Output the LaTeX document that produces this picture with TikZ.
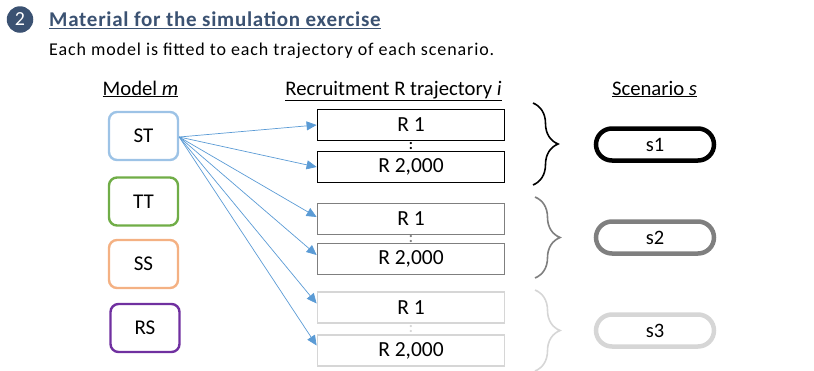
\documentclass[tikz,border=0pt]{standalone}
\usepackage{fontspec}
\setmainfont{Carlito}
\newfontfamily\titlefont{Carlito}[LetterSpace=3.5]
\newfontfamily\subfont{Carlito}[LetterSpace=5]
\usetikzlibrary{arrows.meta,decorations.pathreplacing,calc}
\definecolor{titleblue}{HTML}{3B5272}
\definecolor{stblue}{HTML}{9DC3E6}
\definecolor{ttgreen}{HTML}{70AD47}
\definecolor{ssorange}{HTML}{F4B183}
\definecolor{rspurple}{HTML}{7030A0}
\definecolor{arrowblue}{HTML}{5B9BD5}
\definecolor{midgray}{HTML}{7F7F7F}
\definecolor{lightgray}{HTML}{D6D6D6}
\tikzset{
  modelbox/.style={draw, line width=2.4pt, rounded corners=8pt, minimum width=69pt, minimum height=48pt, font=\fontsize{21}{21}\selectfont, inner sep=0pt},
  rbox/.style={draw, line width=1.8pt, minimum width=187pt, minimum height=31pt, font=\fontsize{21.5}{21.5}\selectfont, inner sep=0pt},
  pill/.style={draw, line width=4.5pt, rounded corners=16pt, minimum width=118pt, minimum height=32pt, font=\fontsize{20.5}{20.5}\selectfont, inner sep=0pt},
  header/.style={font=\fontsize{20.7}{20.7}\selectfont, inner sep=0pt, anchor=base},
  fitarrow/.style={draw=arrowblue, line width=0.7pt, -{Triangle[length=10pt,width=9pt]}, arrowblue},
  curly/.style={decorate, decoration={brace, amplitude=25pt}, line width=1.6pt},
  dotsep/.style={font=\fontsize{15}{15}\selectfont\bfseries, inner sep=0pt}
}
\begin{document}
\begin{tikzpicture}[x=1pt,y=-1pt]
\useasboundingbox (0,0) rectangle (814,370);
% title
\node[circle, fill=titleblue, minimum size=26.5pt, inner sep=0pt, text=white, font=\fontsize{20}{20}\selectfont] (num) at (20,19.5) {2};
\node[anchor=base west, inner sep=0pt, text=titleblue, font=\titlefont\fontsize{21}{21}\selectfont\bfseries] (title) at (49,26.7) {\underline{Material for the simulation exercise}};
\node[anchor=base west, inner sep=0pt, font=\subfont\fontsize{18}{18}\selectfont] (sub) at (49,55) {Each model is fitted to each trajectory of each scenario.};
% headers
\node[header] (hm) at (140.5,95) {\underline{Model \textit{m}}};
\node[header] (hr) at (393.5,95) {\underline{Recruitment R trajectory \textit{i}}};
\node[header] (hs) at (654.5,95) {\underline{Scenario \textit{s}}};
% model boxes
\node[modelbox, draw=stblue] (st) at (143.5,136) {ST};
\node[modelbox, draw=ttgreen] (tt) at (143.5,201.5) {TT};
\node[modelbox, draw=ssorange] (ss) at (143.5,264) {SS};
\node[modelbox, draw=rspurple] (rs) at (145,328) {RS};
% R boxes
\node[rbox, draw=black] (a1) at (411,125) {R 1};
\node[rbox, draw=black] (a2) at (411,167) {R 2,000};
\node[rbox, draw=midgray] (b1) at (411,219) {R 1};
\node[rbox, draw=midgray] (b2) at (411,259) {R 2,000};
\node[rbox, draw=lightgray] (c1) at (411,307.5) {R 1};
\node[rbox, draw=lightgray] (c2) at (411,350.5) {R 2,000};
% dots
\node[dotsep, text=black] (da) at (411,146) {:};
\node[dotsep, text=midgray] (db) at (411,239) {:};
\node[dotsep, text=lightgray] (dc) at (411,329) {:};
% braces
\coordinate (ba1) at (533,103); \coordinate (ba2) at (533,185);
\coordinate (bb1) at (535,197); \coordinate (bb2) at (535,278);
\coordinate (bc1) at (535,290); \coordinate (bc2) at (535,371);
\draw[curly, draw=black] (ba1) -- (ba2);
\draw[curly, draw=midgray] (bb1) -- (bb2);
\draw[curly, draw=lightgray] (bc1) -- (bc2);
% scenarios
\node[pill, draw=black] (s1) at (655,144.5) {s1};
\node[pill, draw=midgray] (s2) at (655,237.5) {s2};
\node[pill, draw=lightgray] (s3) at (655,330.5) {s3};
% arrows
\coordinate (o) at ($(st.east)+(0,1)$);
\draw[fitarrow] (o) -- (a1.west);
\draw[fitarrow] (o) -- (a2.west);
\draw[fitarrow] (o) -- ($(b1.west)+(0,-2)$);
\draw[fitarrow] (o) -- ($(b2.west)+(0,-4)$);
\draw[fitarrow] (o) -- ($(c1.west)+(0,-4)$);
\draw[fitarrow] (o) -- ($(c2.west)+(0,-5)$);
\end{tikzpicture}
\end{document}
